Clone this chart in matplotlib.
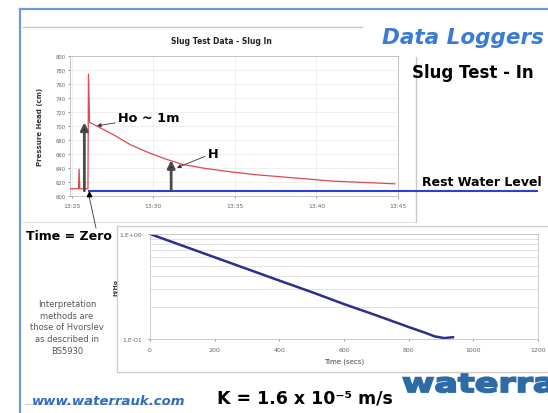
import matplotlib
matplotlib.use("Agg")
import matplotlib.pyplot as plt
from matplotlib.ticker import LogLocator, NullFormatter
from matplotlib.textpath import TextPath
from matplotlib.patches import PathPatch
from matplotlib.font_manager import FontProperties
from matplotlib.transforms import Affine2D

# Slug test - pressure head against clock time (minutes after 13:25)
head_t = [-0.1, 0.42, 0.46, 0.50, 1.00, 1.03, 1.10, 1.6, 2.1, 2.66, 3.6, 4.68, 5.7,
          6.76, 8.2, 9.82, 11.3, 12.87, 14.4, 15.9, 17.9, 19.8]
head_cm = [610, 610, 638, 610, 610, 774, 705, 699, 693, 686, 673, 662, 653,
           645, 639, 634, 630, 627, 624, 621, 619, 617]
time_ticks = [0, 5, 10, 15, 20]
time_labels = ["13:25", "13:30", "13:35", "13:40", "13:45"]
rest_level = 607
time_zero = 1.07
ho_time, ho_head = 0.78, 705
h_time, h_head = 6.1, 651

# normalised head H/Ho against seconds since time zero
norm_t = [0, 100, 200, 300, 400, 500, 600, 700, 800, 850, 880, 910, 937]
norm_h = [1.0, 0.775, 0.60, 0.465, 0.36, 0.28, 0.215, 0.168, 0.13, 0.115, 0.106, 0.102, 0.104]
secs_ticks = [0, 200, 400, 600, 800, 1000, 1200]

W, H = 548, 414
fig = plt.figure(figsize=(W / 100, H / 100), dpi=100)
fig.patch.set_facecolor("white")

def box(l, t, r, b):
    # pixel box (from top left) -> figure fraction rect
    return [l / W, 1 - b / H, (r - l) / W, (b - t) / H]

# overlay in pixel coordinates for frames and slide text
bg = fig.add_axes([0, 0, 1, 1], zorder=0)
bg.set_xlim(0, W)
bg.set_ylim(H, 0)
bg.axis("off")

blue_frame = "#6b9bd8"
bg.plot([20, 548], [10, 10], color=blue_frame, lw=1.6)
bg.plot([20, 20], [10, 414], color=blue_frame, lw=1.6)
bg.plot([23, 362], [28, 28], color="#c8c8c8", lw=1.0)
bg.plot([416, 416], [58, 223], color="#c8c8c8", lw=1.0)
bg.plot([23, 416], [223, 223], color="#e0e0e0", lw=0.8)
bg.plot([117, 550, 550, 117, 117], [227, 227, 373, 373, 227], color="#cfcfcf", lw=1.0)
bg.plot([25, 183], [405, 405], color="#d0d0d0", lw=0.8)
bg.plot([89, 96], [197, 229], color="#333333", lw=0.6)

bold = dict(fontweight="bold", family="DejaVu Sans")
bg.text(382, 38, "Data Loggers", color="#3a7bd5", fontsize=15.5, style="italic",
        va="center", ha="left", **bold)
bg.text(412, 73, "Slug Test - In", color="black", fontsize=12, va="center", **bold)
bg.text(422, 183, "Rest Water Level", color="black", fontsize=9, va="center", **bold)
bg.text(26, 237, "Time = Zero", color="black", fontsize=9, va="center", **bold)
bg.text(403, 269, "H/Ho = 0.37", color="black", fontsize=9.4, va="center", **bold)
bg.text(67, 328, "Interpretation\nmethods are\nthose of Hvorslev\nas described in\nBS5930",
        ha="center", va="center", fontsize=6, color="#555555", linespacing=1.4)
bg.text(32, 402, "www.waterrauk.com", color="#2f6cc0", fontsize=9.5, style="italic",
        va="center", **bold)
bg.text(217, 399, "K = 1.6 x 10\u207b\u2075 m/s", color="black", fontsize=12.5,
        va="center", **bold)
bg.text(221, 42, "Slug Test Data - Slug In", ha="center", va="center", fontsize=5.5,
        color="#222222", **bold)

# wide heavy logo word, stretched sideways and thickened with an outline
logo = TextPath((0, 0), "waterra", size=25, prop=FontProperties(family="DejaVu Sans", weight="bold"))
logo = Affine2D().scale(1.40, -1.05).translate(402, 393).transform_path(logo)
bg.add_patch(PathPatch(logo, fc="#2d6aa6", ec="#2d6aa6", lw=1.3, clip_on=False))

# top chart: pressure head
ax = fig.add_axes(box(70, 57, 398, 196.7), zorder=2)
ax.plot(head_t, head_cm, color="#e0484f", lw=0.9, zorder=3)
ax.plot([time_zero, 28.5], [rest_level, rest_level], color="#2a3fd8", lw=1.5,
        clip_on=False, zorder=4)
ax.plot([time_zero], [rest_level - 4.5], marker="^", color="black", ms=3.2,
        clip_on=False, zorder=5)
arrow = dict(arrowstyle="-|>,head_width=0.22,head_length=0.45", lw=2.0,
             color="#4a4a4a", fc="black", ec="#4a4a4a", shrinkA=0, shrinkB=0)
ax.annotate("", xy=(ho_time, ho_head), xytext=(ho_time, rest_level), arrowprops=arrow, zorder=6)
ax.annotate("", xy=(h_time, h_head), xytext=(h_time, rest_level), arrowprops=arrow, zorder=6)
link = dict(arrowstyle="-|>,head_width=0.12,head_length=0.25", lw=0.6, color="#333333",
            shrinkA=0, shrinkB=0)
ax.annotate("Ho ~ 1m", xy=(1.55, 700), xytext=(2.84, 712), va="center", ha="left",
            fontsize=9.3, arrowprops=link, **bold)
ax.annotate("H", xy=(6.45, 640), xytext=(8.35, 661), va="center", ha="left",
            fontsize=9.3, arrowprops=link, **bold)
ax.set_xlim(-0.1, 19.9)
ax.set_ylim(600, 800)
ax.set_yticks(range(600, 801, 20))
ax.set_xticks(time_ticks, time_labels)
ax.grid(True, color="#ececec", lw=0.6)
ax.set_axisbelow(True)
ax.tick_params(axis="y", labelsize=3.8, colors="#666666", length=1.5, width=0.5, pad=1.5)
ax.tick_params(axis="x", labelsize=4.3, colors="#666666", length=1.5, width=0.5, pad=4)
for s in ax.spines.values():
    s.set_color("#bdbdbd")
    s.set_linewidth(0.6)
ax.set_ylabel("Pressure Head (cm)", fontsize=5, color="#333333", labelpad=9, **bold)

# bottom chart: H/Ho on log scale
ax2 = fig.add_axes(box(150, 235, 538, 340), zorder=2)
ax2.plot(norm_t, norm_h, color="#2b2f8f", lw=1.8)
ax2.set_yscale("log")
ax2.set_ylim(0.1, 1.0)
ax2.set_xlim(0, 1200)
ax2.set_xticks(secs_ticks)
ax2.set_yticks([0.1, 1.0], ["1.E-01", "1.E+00"])
ax2.yaxis.set_minor_locator(LogLocator(base=10, subs=[0.2, 0.3, 0.4, 0.5, 0.6, 0.7, 0.8, 0.9]))
ax2.yaxis.set_minor_formatter(NullFormatter())
ax2.grid(True, axis="y", which="both", color="#dcdcdc", lw=0.6)
ax2.set_axisbelow(True)
ax2.tick_params(which="minor", length=0)
ax2.tick_params(which="major", labelsize=4.5, colors="#666666", length=1.5, width=0.5, pad=4)
for s in ax2.spines.values():
    s.set_color("#c4c4c4")
    s.set_linewidth(0.6)
ax2.set_ylabel("H/Ho", fontsize=4.5, color="#333333", labelpad=1, **bold)
ax2.set_xlabel("Time (secs)", fontsize=5, color="#444444", labelpad=4)

fig.savefig("out.png", dpi=100)
